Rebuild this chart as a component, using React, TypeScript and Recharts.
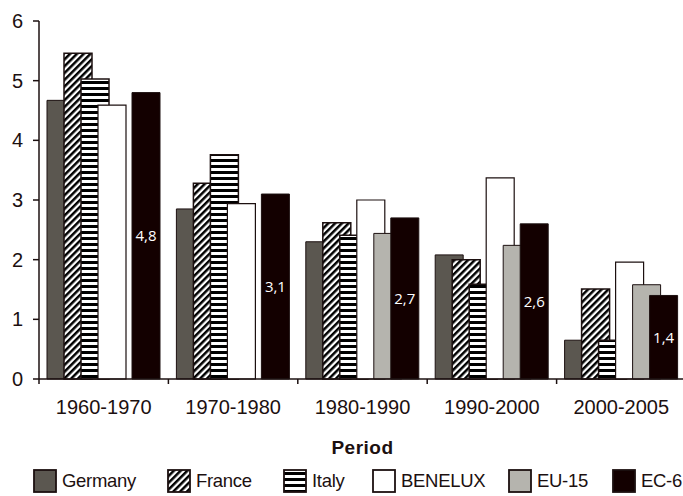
import { Bar, BarChart, LabelList, XAxis, YAxis } from "recharts";

const periods = ["1960-1970", "1970-1980", "1980-1990", "1990-2000", "2000-2005"];
const germany = [4.67, 2.85, 2.3, 2.08, 0.65];
const france = [5.46, 3.28, 2.62, 2.0, 1.51];
const italy = [5.03, 3.76, 2.41, 1.59, 0.65];
const benelux = [4.59, 2.94, 3.0, 3.37, 1.96];
const eu15 = [null, null, 2.44, 2.24, 1.58];
const ec6 = [4.8, 3.1, 2.7, 2.6, 1.4];
const yTicks = [0, 1, 2, 3, 4, 5, 6];

const data = periods.map((period, i) => ({
  period,
  germany: germany[i],
  france: france[i],
  italy: italy[i],
  benelux: benelux[i],
  eu15: eu15[i],
  ec6: ec6[i],
}));

const INK = "#1c1010";
const FONT = "'Liberation Sans', Arial, sans-serif";
const HALF_BAND = 64.7;

const series = [
  { key: "germany", name: "Germany", fill: "#5b5750", sw: 1 },
  { key: "france", name: "France", fill: "url(#hatchDiag)", sw: 1.5 },
  { key: "italy", name: "Italy", fill: "url(#hatchHoriz)", sw: 1.5 },
  { key: "benelux", name: "BENELUX", fill: "#ffffff", sw: 1.2 },
  { key: "eu15", name: "EU-15", fill: "#b5b4ae", sw: 1 },
  { key: "ec6", name: "EC-6", fill: "#130000", sw: 1 },
];
const legendX = [33, 167, 283, 372, 508, 612];

function PeriodTick(props: any) {
  const { x, y, payload } = props;
  return (
    <g>
      <line x1={x - HALF_BAND} x2={x - HALF_BAND} y1={y} y2={y + 5} stroke={INK} strokeWidth={1.5} />
      <text x={x} y={y + 35} textAnchor="middle" fontSize={20} fill={INK} fontFamily={FONT}>
        {payload.value}
      </text>
    </g>
  );
}

export default function App() {
  return (
    <div
      style={{
        position: "absolute",
        left: 0,
        top: 0,
        width: 683,
        height: 496,
        overflow: "hidden",
        background: "#fff",
        fontFamily: FONT,
      }}
    >
      <svg width={0} height={0} style={{ position: "absolute" }}>
        <defs>
          <pattern id="hatchDiag" patternUnits="userSpaceOnUse" width={4.8} height={4.8} patternTransform="rotate(45)">
            <rect width={4.8} height={4.8} fill="#fff" />
            <rect width={2.5} height={4.8} fill="#000" />
          </pattern>
          <pattern id="hatchHoriz" patternUnits="userSpaceOnUse" width={6} height={6}>
            <rect width={6} height={6} fill="#fff" />
            <rect y={3} width={6} height={3} fill="#000" />
          </pattern>
        </defs>
      </svg>
      <BarChart
        width={690}
        height={496}
        data={data}
        margin={{ top: 21, right: 4, left: 0, bottom: 37 }}
        barSize={28}
        barGap={-11}
      >
        <XAxis
          dataKey="period"
          height={80}
          interval={0}
          tickLine={false}
          tickSize={0}
          tickMargin={0}
          tick={<PeriodTick />}
          axisLine={{ stroke: INK, strokeWidth: 1.5 }}
          label={{
            value: "Period",
            position: "insideBottom",
            offset: 5,
            fontSize: 19,
            fontWeight: "bold",
            fill: INK,
            fontFamily: FONT,
            letterSpacing: 0.5,
          }}
        />
        <YAxis
          width={39}
          domain={[0, 6]}
          ticks={yTicks}
          interval={0}
          tickSize={6}
          tickMargin={10}
          axisLine={{ stroke: INK, strokeWidth: 1.5 }}
          tickLine={{ stroke: INK, strokeWidth: 1.5 }}
          tick={{ fontSize: 20, fill: INK, fontFamily: FONT }}
        />
        {series.map((s) => (
          <Bar
            key={s.key}
            dataKey={s.key}
            name={s.name}
            fill={s.fill}
            stroke={INK}
            strokeWidth={s.sw}
            isAnimationActive={false}
          >
            {s.key === "ec6" && (
              <LabelList
                dataKey="ec6"
                position="center"
                fill="#fff"
                fontSize={15}
                fontFamily="'Open Sans', sans-serif"
                formatter={(v: any) => String(v).replace(".", ",")}
              />
            )}
          </Bar>
        ))}
      </BarChart>
      {series.map((s, i) => (
        <div
          key={s.key}
          style={{
            position: "absolute",
            left: legendX[i],
            top: 469,
            height: 24,
            display: "flex",
            alignItems: "center",
            fontSize: 18.5,
            letterSpacing: -0.3,
            color: INK,
            whiteSpace: "nowrap",
          }}
        >
          <svg width={24} height={24} style={{ marginRight: 5 }}>
            <rect x={1} y={1} width={22} height={22} fill={s.fill} stroke={INK} strokeWidth={1.8} />
          </svg>
          <span>{s.name}</span>
        </div>
      ))}
    </div>
  );
}
